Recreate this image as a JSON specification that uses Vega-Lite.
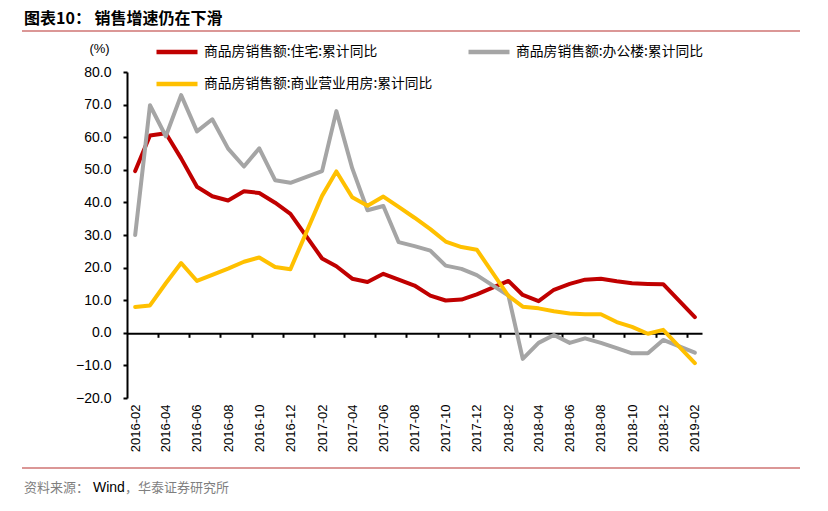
{
  "$schema": "https://vega.github.io/schema/vega-lite/v6.json",
  "width": 575,
  "height": 326,
  "autosize": {"type": "none"},
  "padding": {"left": 127, "top": 72, "right": 126, "bottom": 113},
  "background": "white",
  "config": {"view": {"stroke": null}, "font": "Liberation Sans"},
  "datasets": {
    "sales": [
      {"series": "商品房销售额:住宅:累计同比", "month": "2016-02-01", "value": 49.6},
      {"series": "商品房销售额:住宅:累计同比", "month": "2016-03-01", "value": 60.5},
      {"series": "商品房销售额:住宅:累计同比", "month": "2016-04-01", "value": 61.2},
      {"series": "商品房销售额:住宅:累计同比", "month": "2016-05-01", "value": 53.5},
      {"series": "商品房销售额:住宅:累计同比", "month": "2016-06-01", "value": 44.8},
      {"series": "商品房销售额:住宅:累计同比", "month": "2016-07-01", "value": 41.9},
      {"series": "商品房销售额:住宅:累计同比", "month": "2016-08-01", "value": 40.6},
      {"series": "商品房销售额:住宅:累计同比", "month": "2016-09-01", "value": 43.4},
      {"series": "商品房销售额:住宅:累计同比", "month": "2016-10-01", "value": 42.9},
      {"series": "商品房销售额:住宅:累计同比", "month": "2016-11-01", "value": 39.9},
      {"series": "商品房销售额:住宅:累计同比", "month": "2016-12-01", "value": 36.5},
      {"series": "商品房销售额:住宅:累计同比", "month": "2017-02-01", "value": 22.8},
      {"series": "商品房销售额:住宅:累计同比", "month": "2017-03-01", "value": 20.4},
      {"series": "商品房销售额:住宅:累计同比", "month": "2017-04-01", "value": 16.6},
      {"series": "商品房销售额:住宅:累计同比", "month": "2017-05-01", "value": 15.6},
      {"series": "商品房销售额:住宅:累计同比", "month": "2017-06-01", "value": 18.1},
      {"series": "商品房销售额:住宅:累计同比", "month": "2017-07-01", "value": 16.3},
      {"series": "商品房销售额:住宅:累计同比", "month": "2017-08-01", "value": 14.5},
      {"series": "商品房销售额:住宅:累计同比", "month": "2017-09-01", "value": 11.4},
      {"series": "商品房销售额:住宅:累计同比", "month": "2017-10-01", "value": 9.9},
      {"series": "商品房销售额:住宅:累计同比", "month": "2017-11-01", "value": 10.2},
      {"series": "商品房销售额:住宅:累计同比", "month": "2017-12-01", "value": 11.8},
      {"series": "商品房销售额:住宅:累计同比", "month": "2018-02-01", "value": 15.9},
      {"series": "商品房销售额:住宅:累计同比", "month": "2018-03-01", "value": 11.6},
      {"series": "商品房销售额:住宅:累计同比", "month": "2018-04-01", "value": 9.7},
      {"series": "商品房销售额:住宅:累计同比", "month": "2018-05-01", "value": 13.2},
      {"series": "商品房销售额:住宅:累计同比", "month": "2018-06-01", "value": 15.0},
      {"series": "商品房销售额:住宅:累计同比", "month": "2018-07-01", "value": 16.3},
      {"series": "商品房销售额:住宅:累计同比", "month": "2018-08-01", "value": 16.6},
      {"series": "商品房销售额:住宅:累计同比", "month": "2018-09-01", "value": 15.8},
      {"series": "商品房销售额:住宅:累计同比", "month": "2018-10-01", "value": 15.2},
      {"series": "商品房销售额:住宅:累计同比", "month": "2018-11-01", "value": 15.0},
      {"series": "商品房销售额:住宅:累计同比", "month": "2018-12-01", "value": 14.9},
      {"series": "商品房销售额:住宅:累计同比", "month": "2019-02-01", "value": 4.8},

      {"series": "商品房销售额:办公楼:累计同比", "month": "2016-02-01", "value": 30.0},
      {"series": "商品房销售额:办公楼:累计同比", "month": "2016-03-01", "value": 69.8},
      {"series": "商品房销售额:办公楼:累计同比", "month": "2016-04-01", "value": 60.3},
      {"series": "商品房销售额:办公楼:累计同比", "month": "2016-05-01", "value": 72.9},
      {"series": "商品房销售额:办公楼:累计同比", "month": "2016-06-01", "value": 61.8},
      {"series": "商品房销售额:办公楼:累计同比", "month": "2016-07-01", "value": 65.5},
      {"series": "商品房销售额:办公楼:累计同比", "month": "2016-08-01", "value": 56.5},
      {"series": "商品房销售额:办公楼:累计同比", "month": "2016-09-01", "value": 51.0},
      {"series": "商品房销售额:办公楼:累计同比", "month": "2016-10-01", "value": 56.6},
      {"series": "商品房销售额:办公楼:累计同比", "month": "2016-11-01", "value": 46.8},
      {"series": "商品房销售额:办公楼:累计同比", "month": "2016-12-01", "value": 46.0},
      {"series": "商品房销售额:办公楼:累计同比", "month": "2017-02-01", "value": 49.6},
      {"series": "商品房销售额:办公楼:累计同比", "month": "2017-03-01", "value": 68.0},
      {"series": "商品房销售额:办公楼:累计同比", "month": "2017-04-01", "value": 50.5},
      {"series": "商品房销售额:办公楼:累计同比", "month": "2017-05-01", "value": 37.6},
      {"series": "商品房销售额:办公楼:累计同比", "month": "2017-06-01", "value": 38.9},
      {"series": "商品房销售额:办公楼:累计同比", "month": "2017-07-01", "value": 27.8},
      {"series": "商品房销售额:办公楼:累计同比", "month": "2017-08-01", "value": 26.6},
      {"series": "商品房销售额:办公楼:累计同比", "month": "2017-09-01", "value": 25.2},
      {"series": "商品房销售额:办公楼:累计同比", "month": "2017-10-01", "value": 20.6},
      {"series": "商品房销售额:办公楼:累计同比", "month": "2017-11-01", "value": 19.6},
      {"series": "商品房销售额:办公楼:累计同比", "month": "2017-12-01", "value": 17.7},
      {"series": "商品房销售额:办公楼:累计同比", "month": "2018-02-01", "value": 11.4},
      {"series": "商品房销售额:办公楼:累计同比", "month": "2018-03-01", "value": -8.0},
      {"series": "商品房销售额:办公楼:累计同比", "month": "2018-04-01", "value": -3.1},
      {"series": "商品房销售额:办公楼:累计同比", "month": "2018-05-01", "value": -0.7},
      {"series": "商品房销售额:办公楼:累计同比", "month": "2018-06-01", "value": -3.1},
      {"series": "商品房销售额:办公楼:累计同比", "month": "2018-07-01", "value": -1.7},
      {"series": "商品房销售额:办公楼:累计同比", "month": "2018-08-01", "value": -3.1},
      {"series": "商品房销售额:办公楼:累计同比", "month": "2018-09-01", "value": -4.7},
      {"series": "商品房销售额:办公楼:累计同比", "month": "2018-10-01", "value": -6.3},
      {"series": "商品房销售额:办公楼:累计同比", "month": "2018-11-01", "value": -6.3},
      {"series": "商品房销售额:办公楼:累计同比", "month": "2018-12-01", "value": -2.2},
      {"series": "商品房销售额:办公楼:累计同比", "month": "2019-02-01", "value": -6.1},

      {"series": "商品房销售额:商业营业用房:累计同比", "month": "2016-02-01", "value": 7.9},
      {"series": "商品房销售额:商业营业用房:累计同比", "month": "2016-03-01", "value": 8.4},
      {"series": "商品房销售额:商业营业用房:累计同比", "month": "2016-04-01", "value": 15.2},
      {"series": "商品房销售额:商业营业用房:累计同比", "month": "2016-05-01", "value": 21.4},
      {"series": "商品房销售额:商业营业用房:累计同比", "month": "2016-06-01", "value": 15.9},
      {"series": "商品房销售额:商业营业用房:累计同比", "month": "2016-07-01", "value": 17.8},
      {"series": "商品房销售额:商业营业用房:累计同比", "month": "2016-08-01", "value": 19.7},
      {"series": "商品房销售额:商业营业用房:累计同比", "month": "2016-09-01", "value": 21.8},
      {"series": "商品房销售额:商业营业用房:累计同比", "month": "2016-10-01", "value": 23.1},
      {"series": "商品房销售额:商业营业用房:累计同比", "month": "2016-11-01", "value": 20.2},
      {"series": "商品房销售额:商业营业用房:累计同比", "month": "2016-12-01", "value": 19.5},
      {"series": "商品房销售额:商业营业用房:累计同比", "month": "2017-02-01", "value": 42.0},
      {"series": "商品房销售额:商业营业用房:累计同比", "month": "2017-03-01", "value": 49.5},
      {"series": "商品房销售额:商业营业用房:累计同比", "month": "2017-04-01", "value": 41.6},
      {"series": "商品房销售额:商业营业用房:累计同比", "month": "2017-05-01", "value": 39.0},
      {"series": "商品房销售额:商业营业用房:累计同比", "month": "2017-06-01", "value": 41.8},
      {"series": "商品房销售额:商业营业用房:累计同比", "month": "2017-07-01", "value": 38.6},
      {"series": "商品房销售额:商业营业用房:累计同比", "month": "2017-08-01", "value": 35.3},
      {"series": "商品房销售额:商业营业用房:累计同比", "month": "2017-09-01", "value": 31.8},
      {"series": "商品房销售额:商业营业用房:累计同比", "month": "2017-10-01", "value": 28.0},
      {"series": "商品房销售额:商业营业用房:累计同比", "month": "2017-11-01", "value": 26.3},
      {"series": "商品房销售额:商业营业用房:累计同比", "month": "2017-12-01", "value": 25.5},
      {"series": "商品房销售额:商业营业用房:累计同比", "month": "2018-02-01", "value": 11.3},
      {"series": "商品房销售额:商业营业用房:累计同比", "month": "2018-03-01", "value": 8.0},
      {"series": "商品房销售额:商业营业用房:累计同比", "month": "2018-04-01", "value": 7.5},
      {"series": "商品房销售额:商业营业用房:累计同比", "month": "2018-05-01", "value": 6.6},
      {"series": "商品房销售额:商业营业用房:累计同比", "month": "2018-06-01", "value": 5.9},
      {"series": "商品房销售额:商业营业用房:累计同比", "month": "2018-07-01", "value": 5.7},
      {"series": "商品房销售额:商业营业用房:累计同比", "month": "2018-08-01", "value": 5.7},
      {"series": "商品房销售额:商业营业用房:累计同比", "month": "2018-09-01", "value": 3.3},
      {"series": "商品房销售额:商业营业用房:累计同比", "month": "2018-10-01", "value": 1.8},
      {"series": "商品房销售额:商业营业用房:累计同比", "month": "2018-11-01", "value": -0.3},
      {"series": "商品房销售额:商业营业用房:累计同比", "month": "2018-12-01", "value": 0.9},
      {"series": "商品房销售额:商业营业用房:累计同比", "month": "2019-02-01", "value": -9.3}
    ]
  },
  "layer": [
    {
      "data": {"name": "sales"},
      "mark": {"type": "line", "strokeWidth": 4, "strokeJoin": "round", "strokeCap": "round"},
      "encoding": {
        "x": {
          "field": "month",
          "type": "temporal",
          "scale": {
            "type": "utc",
            "domain": [
              {"year": 2016, "month": 1, "date": 16, "utc": true},
              {"year": 2019, "month": 2, "date": 15, "utc": true}
            ]
          },
          "axis": {
            "orient": "bottom",
            "title": null,
            "domain": false,
            "ticks": false,
            "grid": false,
            "labelAngle": -90,
            "labelPadding": 6,
            "labelFont": "Liberation Sans",
            "labelFontSize": 13,
            "labelColor": "black",
            "labelOverlap": false,
            "labelFlush": false,
            "format": "%Y-%m",
            "values": [
              {"year": 2016, "month": 2, "date": 1, "utc": true},
              {"year": 2016, "month": 4, "date": 1, "utc": true},
              {"year": 2016, "month": 6, "date": 1, "utc": true},
              {"year": 2016, "month": 8, "date": 1, "utc": true},
              {"year": 2016, "month": 10, "date": 1, "utc": true},
              {"year": 2016, "month": 12, "date": 1, "utc": true},
              {"year": 2017, "month": 2, "date": 1, "utc": true},
              {"year": 2017, "month": 4, "date": 1, "utc": true},
              {"year": 2017, "month": 6, "date": 1, "utc": true},
              {"year": 2017, "month": 8, "date": 1, "utc": true},
              {"year": 2017, "month": 10, "date": 1, "utc": true},
              {"year": 2017, "month": 12, "date": 1, "utc": true},
              {"year": 2018, "month": 2, "date": 1, "utc": true},
              {"year": 2018, "month": 4, "date": 1, "utc": true},
              {"year": 2018, "month": 6, "date": 1, "utc": true},
              {"year": 2018, "month": 8, "date": 1, "utc": true},
              {"year": 2018, "month": 10, "date": 1, "utc": true},
              {"year": 2018, "month": 12, "date": 1, "utc": true},
              {"year": 2019, "month": 2, "date": 1, "utc": true}
            ]
          }
        },
        "y": {
          "field": "value",
          "type": "quantitative",
          "scale": {"domain": [-20, 80], "nice": false, "zero": false},
          "axis": {
            "title": "(%)",
            "titleAngle": 0,
            "titleX": -28,
            "titleY": -24,
            "titleAlign": "center",
            "titleBaseline": "middle",
            "titleFont": "Liberation Sans",
            "titleFontSize": 13,
            "titleFontWeight": "normal",
            "titleColor": "black",
            "values": [-20, -10, 0, 10, 20, 30, 40, 50, 60, 70, 80],
            "format": ".1f",
            "labelOverlap": false,
            "grid": false,
            "domainColor": "black",
            "domainWidth": 2,
            "tickColor": "black",
            "tickWidth": 2,
            "tickSize": 4,
            "labelPadding": 12,
            "labelFont": "Liberation Sans",
            "labelFontSize": 14,
            "labelColor": "black"
          }
        },
        "color": {
          "field": "series",
          "type": "nominal",
          "scale": {
            "domain": ["商品房销售额:住宅:累计同比", "商品房销售额:办公楼:累计同比", "商品房销售额:商业营业用房:累计同比"],
            "range": ["#C00000", "#A5A5A5", "#FFC000"]
          },
          "legend": {
            "title": null,
            "orient": "none",
            "legendX": 27,
            "legendY": -43,
            "direction": "horizontal",
            "columns": 2,
            "padding": 0,
            "symbolType": "stroke",
            "symbolSize": 1681,
            "symbolStrokeWidth": 4.5,
            "labelFont": "Noto Sans CJK SC",
            "labelFontSize": 13.8,
            "labelColor": "black",
            "labelOffset": 4,
            "labelLimit": 400,
            "rowPadding": -1,
            "columnPadding": 26
          }
        }
      }
    },
    {
      "data": {"name": "sales"},
      "mark": {"type": "line", "color": "black", "strokeWidth": 2, "opacity": 0},
      "encoding": {
        "x": {
          "field": "month",
          "type": "temporal",
          "axis": {
            "orient": "bottom",
            "offset": -64.7,
            "title": null,
            "labels": false,
            "grid": false,
            "domain": true,
            "domainColor": "black",
            "domainWidth": 2,
            "ticks": true,
            "tickColor": "black",
            "tickWidth": 2,
            "tickSize": 4,
            "values": [
              {"year": 2016, "month": 3, "date": 16, "utc": true},
              {"year": 2016, "month": 5, "date": 16, "utc": true},
              {"year": 2016, "month": 7, "date": 16, "utc": true},
              {"year": 2016, "month": 9, "date": 16, "utc": true},
              {"year": 2016, "month": 11, "date": 16, "utc": true},
              {"year": 2017, "month": 1, "date": 16, "utc": true},
              {"year": 2017, "month": 3, "date": 16, "utc": true},
              {"year": 2017, "month": 5, "date": 16, "utc": true},
              {"year": 2017, "month": 7, "date": 16, "utc": true},
              {"year": 2017, "month": 9, "date": 16, "utc": true},
              {"year": 2017, "month": 11, "date": 16, "utc": true},
              {"year": 2018, "month": 1, "date": 16, "utc": true},
              {"year": 2018, "month": 3, "date": 16, "utc": true},
              {"year": 2018, "month": 5, "date": 16, "utc": true},
              {"year": 2018, "month": 7, "date": 16, "utc": true},
              {"year": 2018, "month": 9, "date": 16, "utc": true},
              {"year": 2018, "month": 11, "date": 16, "utc": true},
              {"year": 2019, "month": 1, "date": 16, "utc": true}
            ]
          }
        },
        "y": {"datum": 0, "type": "quantitative", "axis": null}
      }
    },
    {
      "data": {"values": [{}]},
      "mark": {"type": "rule", "color": "#B8312F", "strokeWidth": 1.2},
      "encoding": {"x": {"value": -105}, "x2": {"value": 673}, "y": {"value": -41}}
    },
    {
      "data": {"values": [{}]},
      "mark": {"type": "rule", "color": "#B8312F", "strokeWidth": 1.2},
      "encoding": {"x": {"value": -105}, "x2": {"value": 673}, "y": {"value": 396}}
    },
    {
      "data": {"values": [{}]},
      "mark": {"type": "text", "text": "图表10： 销售增速仍在下滑", "x": -103, "y": -48, "align": "left", "baseline": "alphabetic", "font": "Noto Sans CJK SC", "fontSize": 16, "fontWeight": "bold", "color": "black"}
    },
    {
      "data": {"values": [{}]},
      "mark": {"type": "text", "text": "资料来源：", "x": -103, "y": 420, "align": "left", "baseline": "alphabetic", "font": "Noto Sans CJK SC", "fontSize": 13, "color": "#7F7F7F"}
    },
    {
      "data": {"values": [{}]},
      "mark": {"type": "text", "text": "Wind", "x": -34, "y": 420, "align": "left", "baseline": "alphabetic", "font": "Liberation Sans", "fontSize": 14, "color": "black"}
    },
    {
      "data": {"values": [{}]},
      "mark": {"type": "text", "text": "，华泰证券研究所", "x": -2, "y": 420, "align": "left", "baseline": "alphabetic", "font": "Noto Sans CJK SC", "fontSize": 13, "color": "#7F7F7F"}
    }
  ],
  "resolve": {"axis": {"x": "independent", "y": "independent"}}
}
